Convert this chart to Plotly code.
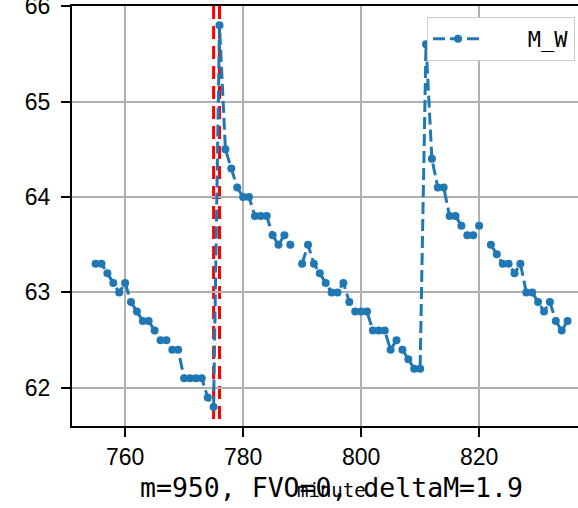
import plotly.graph_objects as go

minutes = list(range(755, 836))
m_w = [63.3, 63.3, 63.2, 63.1, 63.0, 63.1, 62.9, 62.8, 62.7, 62.7,
       62.6, 62.5, 62.5, 62.4, 62.4, 62.1, 62.1, 62.1, 62.1, 61.9,
       61.8, 65.8, 64.5, 64.3, 64.1, 64.0, 64.0, 63.8, 63.8, 63.8,
       63.6, 63.5, 63.6, 63.5, None, 63.3, 63.5, 63.3, 63.2, 63.1,
       63.0, 63.0, 63.1, 62.9, 62.8, 62.8, 62.8, 62.6, 62.6, 62.6,
       62.4, 62.5, 62.4, 62.3, 62.2, 62.2, 65.6, 64.4, 64.1, 64.1,
       63.8, 63.8, 63.7, 63.6, 63.6, 63.7, None, 63.5, 63.4, 63.3,
       63.3, 63.2, 63.3, 63.0, 63.0, 62.9, 62.8, 62.9, 62.7, 62.6,
       62.7]
vlines = [775, 776]
x_ticks = [760, 780, 800, 820]
y_ticks = [62, 63, 64, 65, 66]
title_text = "m=950, FVO=0, deltaM=1.9"
x_label = "minute"
series_name = "M_W"

W, H = 578, 508
L, T, B = 72, 6, 82
px_per_unit = 5.9
x0 = 751.0
x1 = x0 + (W - L) / px_per_unit

fig = go.Figure()
fig.add_trace(go.Scatter(
    x=minutes, y=m_w, mode="lines+markers", name="\u00a0\u00a0\u00a0" + series_name,
    line=dict(color="#1f77b4", width=3, dash="12px,5px"),
    marker=dict(color="#1f77b4", size=8),
    connectgaps=False,
))
for v in vlines:
    fig.add_shape(type="line", xref="x", yref="paper", x0=v, x1=v, y0=1, y1=0,
                  layer="between",
                  line=dict(color="red", width=3, dash="13px,7px"))

cx = ((L + 590) / 2 - L) / (W - L)
fig.add_annotation(x=cx, y=0, xref="paper", yref="paper", yanchor="middle",
                   yshift=-(487 - 426), text=title_text, showarrow=False,
                   font=dict(family="DejaVu Sans Mono", size=26.5, color="black"))
fig.add_annotation(x=cx, y=0, xref="paper", yref="paper", yanchor="middle",
                   yshift=-(490 - 426), text=x_label, showarrow=False,
                   font=dict(family="DejaVu Sans Mono", size=19, color="black"))

fig.update_layout(
    width=W, height=H,
    margin=dict(l=L, r=0, t=T, b=B, pad=0, autoexpand=False),
    paper_bgcolor="white", plot_bgcolor="white",
    showlegend=True,
    legend=dict(x=(427 - L) / (W - L), y=1 - (17 - T) / (H - T - B),
                xanchor="left", yanchor="top",
                bgcolor="white", bordercolor="#cccccc", borderwidth=1,
                font=dict(family="DejaVu Sans Mono", size=22, color="black"),
                itemwidth=50),
    xaxis=dict(range=[x0, x1], tickvals=x_ticks, showgrid=True, automargin=False,
               gridcolor="#b0b0b0", gridwidth=1.5, zeroline=False,
               showline=True, linecolor="black", linewidth=2, mirror=True,
               ticks="outside", ticklen=9, tickwidth=2, tickcolor="black",
               tickfont=dict(family="Liberation Sans", size=23, color="black")),
    yaxis=dict(range=[61.6, 66.002], tickvals=y_ticks, showgrid=True, automargin=False,
               gridcolor="#b0b0b0", gridwidth=1.5, zeroline=False,
               showline=True, linecolor="black", linewidth=2, mirror=False,
               ticks="outside", ticklen=9, tickwidth=2, tickcolor="black",
               ticklabelstandoff=6, ticklabeloverflow="allow",
               tickfont=dict(family="Liberation Sans", size=23, color="black")),
)
fig.write_html("out.html", config={"displayModeBar": False},
               post_script="document.body.style.margin='0px';document.body.style.overflow='hidden';")
